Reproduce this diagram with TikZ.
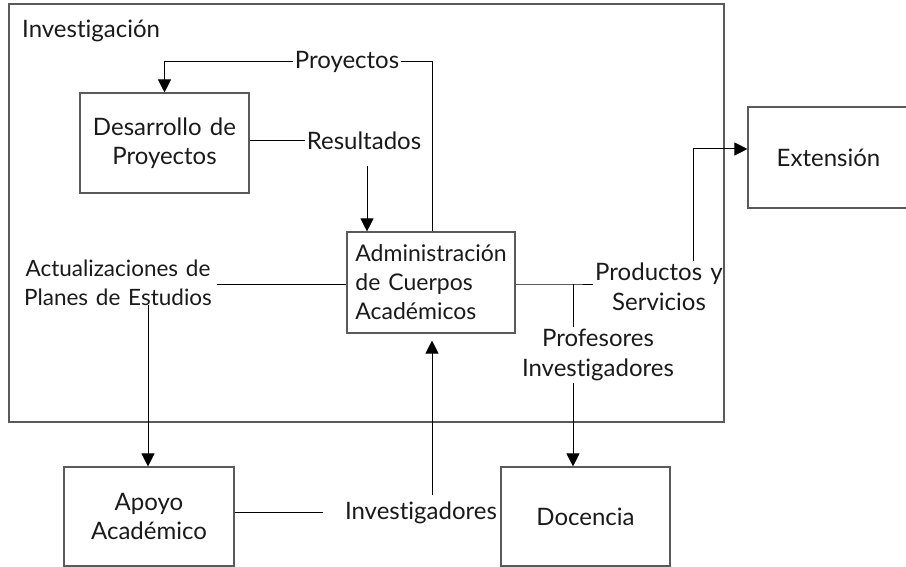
\documentclass[tikz,border=0pt]{standalone}
\usepackage{fontspec}
\setmainfont[WordSpace=1.35,Ligatures={NoCommon,NoRare,NoDiscretionary}]{Lato}
\usetikzlibrary{arrows.meta}
\definecolor{boxgray}{HTML}{5A5A5A}
\definecolor{ink}{HTML}{1A1A1A}
\tikzset{
  box/.style={draw=boxgray, line width=1.1pt, inner sep=0pt, align=center, text=ink},
  lbl/.style={inner sep=2pt, align=center, text=ink},
  conn/.style={draw=black, line width=1pt},
  arr/.style={conn, -{Triangle[length=13pt,width=13pt]}},
}
\begin{document}
\begin{tikzpicture}[x=1pt,y=-1pt,font=\fontsize{24}{29.5}\selectfont]
\useasboundingbox (0,0) rectangle (906,567);
% boxes
\node[box, minimum width=715pt, minimum height=418pt] (inv) at (366.5,213) {};
\node[lbl, anchor=west] (invlbl) at (20,31) {Investigación};
\node[box, minimum width=169pt, minimum height=100pt] (dev) at (164.5,143) {Desarrollo de\\Proyectos};
\node[box, minimum width=168pt, minimum height=101pt] (adm) at (431,282.5) {};
\node[lbl, align=left, font=\fontsize{23}{29}\selectfont] (admtxt) at (adm.center) {Administración\\de Cuerpos\\Académicos};
\node[box, minimum width=170pt, minimum height=99pt] (apo) at (149,516.5) {Apoyo\\Académico};
\node[box, minimum width=169pt, minimum height=99pt] (doc) at (585.5,516.5) {Docencia};
\node[box, minimum width=161pt, minimum height=101pt] (ext) at (828.5,157.5) {Extensión};
% labels
\node[lbl] (proy) at (347,62) {Proyectos};
\node[lbl] (res) at (364,141) {Resultados};
\node[lbl, font=\fontsize{22.5}{28.5}\selectfont] (act) at (118,283) {Actualizaciones de\\Planes de Estudios};
\node[lbl] (prod) at (659,287) {Productos y\\Servicios};
\node[lbl] (prof) at (598,355) {Profesores\\Investigadores};
\node[lbl] (invs) at (421,513) {Investigadores};
% junctions
\coordinate (jr) at (573,284);
\coordinate (pv) at (693,149);
\coordinate (rv) at (367,166);
\coordinate (av) at (148,305);
\coordinate (iv) at (432,495);
\coordinate (il) at (323,512);
\coordinate (pl) at (217,284);
% connectors
\draw[conn] (adm.north -| iv) |- (proy.east);
\draw[arr] (proy.west) -| (dev.north);
\draw[conn] (dev.east |- res.west) -- (res.west);
\draw[arr] (rv) -- (rv |- adm.north);
\draw[conn] (pl) -- (pl -| adm.west);
\draw[arr] (av) -- (av |- apo.north);
\draw[conn] (apo.east |- il) -- (il);
\draw[arr, shorten >=7pt] (iv) -- (iv |- adm.south);
\draw[conn] (adm.east |- jr) -- (jr) -- (jr -| prod.west);
\draw[conn] (jr) -- (jr |- prof.north);
\draw[arr] (jr |- prof.south) -- (jr |- doc.north);
\draw[arr] (pv |- prod.north) -- (pv) -- (pv -| ext.west);
\end{tikzpicture}
\end{document}
